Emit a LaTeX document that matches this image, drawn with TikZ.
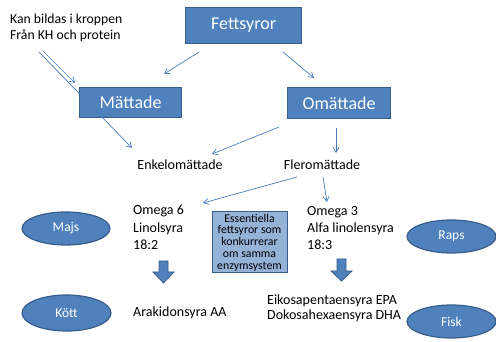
\documentclass[tikz,border=0pt]{standalone}
\usepackage{fontspec}
\setmainfont{Carlito}
\usetikzlibrary{arrows.meta,shapes.geometric}
\definecolor{boxblue}{HTML}{4F81BD}
\definecolor{boxedge}{HTML}{385D8A}
\definecolor{lightblue}{HTML}{95B3D7}
\definecolor{linecol}{HTML}{4A7EBB}
\tikzset{
  bigbox/.style={draw=boxedge, line width=1.2pt, fill=boxblue, text=white, font=\fontsize{18}{21}\selectfont, inner sep=0pt, anchor=north west},
  oval/.style={ellipse, draw=boxedge, line width=1.2pt, fill=boxblue, text=white, font=\fontsize{13.5}{16}\selectfont, inner sep=0pt},
  plain/.style={font=\fontsize{14}{17}\selectfont, inner sep=0pt, align=left},
  conn/.style={draw=linecol, line width=0.7pt, -{Straight Barb[length=5pt,width=6pt]}},
  blockarrow/.style={draw=boxedge, line width=0.8pt, fill=boxblue},
}
\begin{document}
\begin{tikzpicture}[x=1pt,y=-1pt]
\useasboundingbox (0,0) rectangle (496,342);
% boxes
\node[bigbox, minimum width=116pt, minimum height=36pt] (fett) at (185,7) {Fettsyror};
\node[bigbox, minimum width=102pt, minimum height=30pt] (matt) at (79,87) {Mättade};
\node[bigbox, minimum width=103pt, minimum height=31pt] (omatt) at (287,87) {Omättade};
% text
\node[plain, anchor=west, align=left, font=\fontsize{13.7}{16.5}\selectfont] (kan) at (10,28) {Kan bildas i kroppen\\[-1pt]Från KH och protein};
\node[plain] (enkel) at (180,165) {Enkelomättade};
\node[plain] (fler) at (322,165) {Fleromättade};
\node[plain, anchor=north west, font=\fontsize{14}{17.5}\selectfont] (om6) at (133,205) {Omega 6\\Linolsyra\\18:2};
\node[plain, anchor=north west, font=\fontsize{14}{17}\selectfont] (om3) at (307,206) {Omega 3\\Alfa linolensyra\\18:3};
\node[plain, anchor=west] (ara) at (133,313) {Arakidonsyra AA};
\node[plain, anchor=west, font=\fontsize{14}{15.5}\selectfont] (epa) at (267,308.5) {Eikosapentaensyra EPA\\Dokosahexaensyra DHA};
% essentiella box
\node[draw=boxedge, line width=1pt, fill=lightblue, minimum width=75pt, minimum height=61pt, inner sep=0pt, align=center, font=\fontsize{11.8}{11.7}\selectfont] (ess) at (249.5,242.5) {Essentiella\\fettsyror som\\konkurrerar\\om samma\\enzymsystem};
% ovals
\node[oval, minimum width=88pt, minimum height=33pt] (majs) at (66,228.5) {Majs};
\node[oval, minimum width=89pt, minimum height=36pt] (kott) at (66.5,313) {Kött};
\node[oval, minimum width=89pt, minimum height=33pt] (raps) at (451.5,236.5) {Raps};
\node[oval, minimum width=89pt, minimum height=33pt] (fisk) at (451.5,321.5) {Fisk};
% connectors
\coordinate (f1) at (199,52); \coordinate (m1) at (164,74);
\coordinate (f2) at (283,52); \coordinate (o1) at (314,78);
\coordinate (k1) at (39,52); \coordinate (e0) at (132,148);
\coordinate (k2) at (43,51); \coordinate (m2) at (75,83);
\coordinate (o2) at (279,127); \coordinate (e1) at (212,154);
\coordinate (o3) at (336,128); \coordinate (fl1) at (336,153);
\coordinate (fl2) at (297,177); \coordinate (o6) at (203,203);
\coordinate (fl3) at (323,177); \coordinate (o3t) at (327,202);
\draw[conn] (f1) -- (m1);
\draw[conn] (f2) -- (o1);
\draw[conn] (k2) -- (m2);
\draw[conn] (k1) -- (e0);
\draw[conn] (o2) -- (e1);
\draw[conn] (o3) -- (fl1);
\draw[conn] (fl2) -- (o6);
\draw[conn] (fl3) -- (o3t);
% block arrows
\draw[blockarrow] (159,261) -- (168,261) -- (168,272) -- (174,272) -- (163.5,283) -- (153,272) -- (159,272) -- cycle;
\draw[blockarrow] (337,259) -- (346,259) -- (346,271) -- (352,271) -- (341.5,281) -- (331,271) -- (337,271) -- cycle;
\end{tikzpicture}
\end{document}
